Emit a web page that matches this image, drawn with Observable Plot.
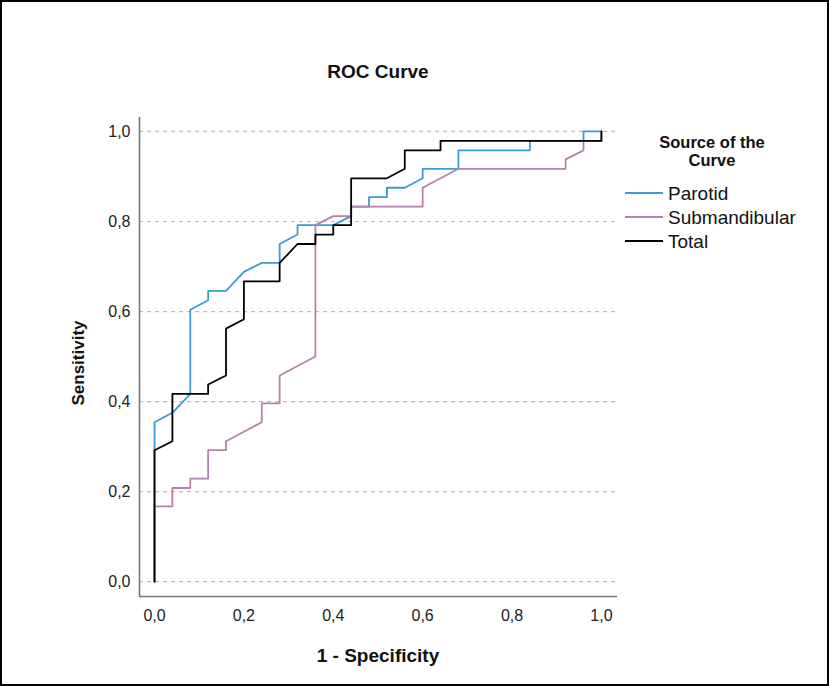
<!DOCTYPE html>
<html>
<head>
<meta charset="utf-8">
<script src="https://cdn.jsdelivr.net/npm/d3@7"></script>
<script src="https://cdn.jsdelivr.net/npm/@observablehq/plot@0.6"></script>
<style>
  html, body { margin: 0; padding: 0; background: #fff; }
  #wrap { position: relative; width: 829px; height: 686px; overflow: hidden; background: #fff;
          font-family: "Liberation Sans", Arial, sans-serif; color: #111; }
  #wrap svg { position: absolute; left: 0; top: 0; }
  .abs { position: absolute; white-space: nowrap; }
  #border { position: absolute; left: 0; top: 0; width: 829px; height: 686px; box-sizing: border-box;
            border: 2px solid #000; pointer-events: none; }
  #title { left: 228px; width: 300px; top: 62px; text-align: center; font-size: 19px; line-height: 19px; font-weight: bold; }
  #xlabel { left: 228px; width: 300px; top: 646px; text-align: center; font-size: 19px; line-height: 19px; font-weight: bold; }
  #ylabel { left: 78px; top: 363px; font-size: 17px; line-height: 17px; font-weight: bold;
            transform: translate(-50%, -50%) rotate(-90deg); }
  .legtitle { left: 632px; width: 160px; text-align: center; font-size: 16.5px; line-height: 18px; height: 18px; font-weight: bold; }
  #legtitle1 { top: 133px; }
  #legtitle2 { top: 151px; }
  .legrow { position: absolute; left: 625px; height: 19px; font-size: 19px; line-height: 19px; }
  .legrow .sw { position: absolute; left: 0; top: 8px; width: 38px; height: 2px; }
  .legrow .tx { position: absolute; left: 43px; top: 0; white-space: nowrap; }
</style>
</head>
<body>
<div id="wrap">
  <div id="title" class="abs">ROC Curve</div>
  <div id="xlabel" class="abs">1 - Specificity</div>
  <div id="ylabel" class="abs">Sensitivity</div>
  <div id="legtitle1" class="abs legtitle">Source of the</div>
  <div id="legtitle2" class="abs legtitle">Curve</div>
  <div id="legend"></div>
  <div id="border"></div>
</div>
<script>
// ---- data ----
const seriesNames = ["Parotid", "Submandibular", "Total"];
const seriesColors = ["#3c9bd2", "#b482aa", "#000000"];

const parotidX = [0, 0, 0.04, 0.08, 0.08, 0.12, 0.12, 0.16, 0.20, 0.24, 0.28, 0.28, 0.32, 0.32, 0.40, 0.44, 0.44, 0.48, 0.48, 0.52, 0.52, 0.56, 0.60, 0.60, 0.68, 0.68, 0.84, 0.84, 0.96, 0.96, 1.0];
const parotidY = [0, 0.354, 0.375, 0.417, 0.604, 0.625, 0.646, 0.646, 0.688, 0.708, 0.708, 0.750, 0.771, 0.792, 0.792, 0.812, 0.833, 0.833, 0.854, 0.854, 0.875, 0.875, 0.896, 0.917, 0.917, 0.958, 0.958, 0.979, 0.979, 1.0, 1.0];

const submandX = [0, 0, 0.04, 0.04, 0.08, 0.08, 0.12, 0.12, 0.16, 0.16, 0.24, 0.24, 0.28, 0.28, 0.36, 0.36, 0.40, 0.44, 0.44, 0.60, 0.60, 0.68, 0.92, 0.92, 0.96, 0.96, 1.0, 1.0];
const submandY = [0, 0.167, 0.167, 0.208, 0.208, 0.229, 0.229, 0.292, 0.292, 0.312, 0.354, 0.396, 0.396, 0.458, 0.500, 0.792, 0.812, 0.812, 0.833, 0.833, 0.875, 0.917, 0.917, 0.938, 0.958, 0.979, 0.979, 1.0];

const totalX = [0, 0, 0.04, 0.04, 0.12, 0.12, 0.16, 0.16, 0.20, 0.20, 0.28, 0.28, 0.32, 0.36, 0.36, 0.40, 0.40, 0.44, 0.44, 0.52, 0.56, 0.56, 0.64, 0.64, 1.0, 1.0];
const totalY = [0, 0.292, 0.312, 0.417, 0.417, 0.438, 0.458, 0.562, 0.583, 0.667, 0.667, 0.708, 0.750, 0.750, 0.771, 0.771, 0.792, 0.792, 0.896, 0.896, 0.917, 0.958, 0.958, 0.979, 0.979, 1.0];

const xTicks = [0, 0.2, 0.4, 0.6, 0.8, 1.0];
const yTicks = [0, 0.2, 0.4, 0.6, 0.8, 1.0];

// ---- build tables ----
const toRows = (xs, ys, name) => xs.map((x, i) => ({x, y: ys[i], series: name}));
const rows = [
  toRows(parotidX, parotidY, seriesNames[0]),
  toRows(submandX, submandY, seriesNames[1]),
  toRows(totalX, totalY, seriesNames[2])
];

const fmt = d => d.toFixed(1).replace(".", ",");
const xDomain = [-0.0336, 1.036];
const yDomain = [-0.033, 1.031];

const chart = Plot.plot({
  width: 829,
  height: 686,
  marginLeft: 139,
  marginRight: 212,
  marginTop: 117,
  marginBottom: 90,
  style: {fontFamily: "'Liberation Sans', Arial, sans-serif", fontSize: "16px", color: "#222", background: "transparent"},
  x: {domain: xDomain, ticks: xTicks, tickFormat: fmt, tickSize: 0, tickPadding: 13, label: null},
  y: {domain: yDomain, ticks: yTicks, tickFormat: fmt, tickSize: 0, tickPadding: 9, label: null},
  marks: [
    Plot.ruleY(yTicks, {stroke: "#bdbdbd", strokeWidth: 1.2, strokeDasharray: "4,4"}),
    Plot.ruleX([xDomain[0]], {stroke: "#777", strokeWidth: 1.6}),
    Plot.ruleY([yDomain[0]], {stroke: "#777", strokeWidth: 1.6}),
    ...rows.map((r, i) => Plot.line(r, {x: "x", y: "y", stroke: seriesColors[i], strokeWidth: 1.8, curve: "linear"}))
  ]
});
const wrap = document.getElementById("wrap");
wrap.insertBefore(chart, wrap.firstChild);

// legend
const leg = document.getElementById("legend");
seriesNames.forEach((name, i) => {
  const row = document.createElement("div");
  row.className = "legrow";
  row.style.top = (184 + 24 * i) + "px";
  const sw = document.createElement("span");
  sw.className = "sw";
  sw.style.background = seriesColors[i];
  const tx = document.createElement("span");
  tx.className = "tx";
  tx.textContent = name;
  row.appendChild(sw);
  row.appendChild(tx);
  leg.appendChild(row);
});
</script>
</body>
</html>
